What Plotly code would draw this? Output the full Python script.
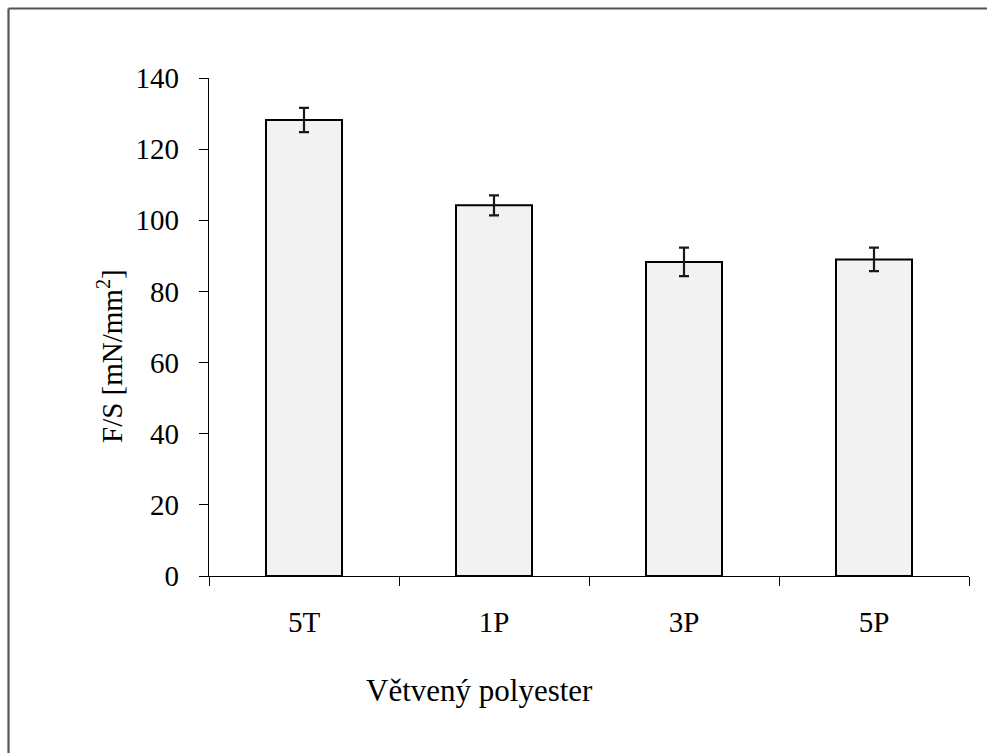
import plotly.graph_objects as go

categories = ["5T", "1P", "3P", "5P"]
values = [128.2, 104.2, 88.3, 89.0]
errors = [3.4, 2.8, 4.0, 3.3]
y_ticks = [0, 20, 40, 60, 80, 100, 120, 140]

W, H = 987, 753
L, R, T, B = 209, 969, 78, 576

def px(x):
    return (x - L) / (R - L)

def py(y):
    return (B - y) / (B - T)

font = "Liberation Serif, Times New Roman, serif"

fig = go.Figure(go.Bar(
    x=categories, y=values, width=0.4,
    marker=dict(color="#f2f2f2", line=dict(color="black", width=2)),
    error_y=dict(type="data", array=errors, visible=True,
                 color="#1a1a1a", thickness=2.2, width=5),
))

fig.update_layout(
    width=W, height=H,
    margin=dict(l=L, r=W - R, t=T, b=H - B),
    paper_bgcolor="white", plot_bgcolor="white",
    showlegend=False,
    font=dict(family=font, size=29, color="black"),
    xaxis=dict(showline=True, linecolor="black", linewidth=1.3,
               ticks="outside", ticklen=9, tickcolor="black", tickwidth=1.3,
               tickson="boundaries", showgrid=False, zeroline=False,
               ticklabelstandoff=20,
               tickfont=dict(family=font, size=29, color="black")),
    yaxis=dict(range=[0, 140], tickvals=y_ticks, showline=True,
               linecolor="black", linewidth=1.3, ticks="outside",
               ticklen=9, tickcolor="black", tickwidth=1.3,
               showgrid=False, zeroline=False, ticklabelstandoff=14,
               tickfont=dict(family=font, size=29, color="black")),
    annotations=[
        dict(text="F/S [mN/mm<sup>2</sup>]", textangle=-90,
             xref="paper", yref="paper", x=px(110), y=py(356),
             xanchor="center", yanchor="middle", showarrow=False,
             font=dict(family=font, size=29, color="black")),
        dict(text="Větvený polyester",
             xref="paper", yref="paper", x=px(479), y=py(690),
             xanchor="center", yanchor="middle", showarrow=False,
             font=dict(family=font, size=31, color="black")),
    ],
    shapes=[
        dict(type="line", xref="paper", yref="paper",
             x0=px(8.5), x1=px(995), y0=py(8.5), y1=py(8.5),
             line=dict(color="#555555", width=2.2)),
        dict(type="line", xref="paper", yref="paper",
             x0=px(8.5), x1=px(8.5), y0=py(8.5), y1=py(760),
             line=dict(color="#555555", width=2.2)),
    ],
)

fig.write_html("out.html")
